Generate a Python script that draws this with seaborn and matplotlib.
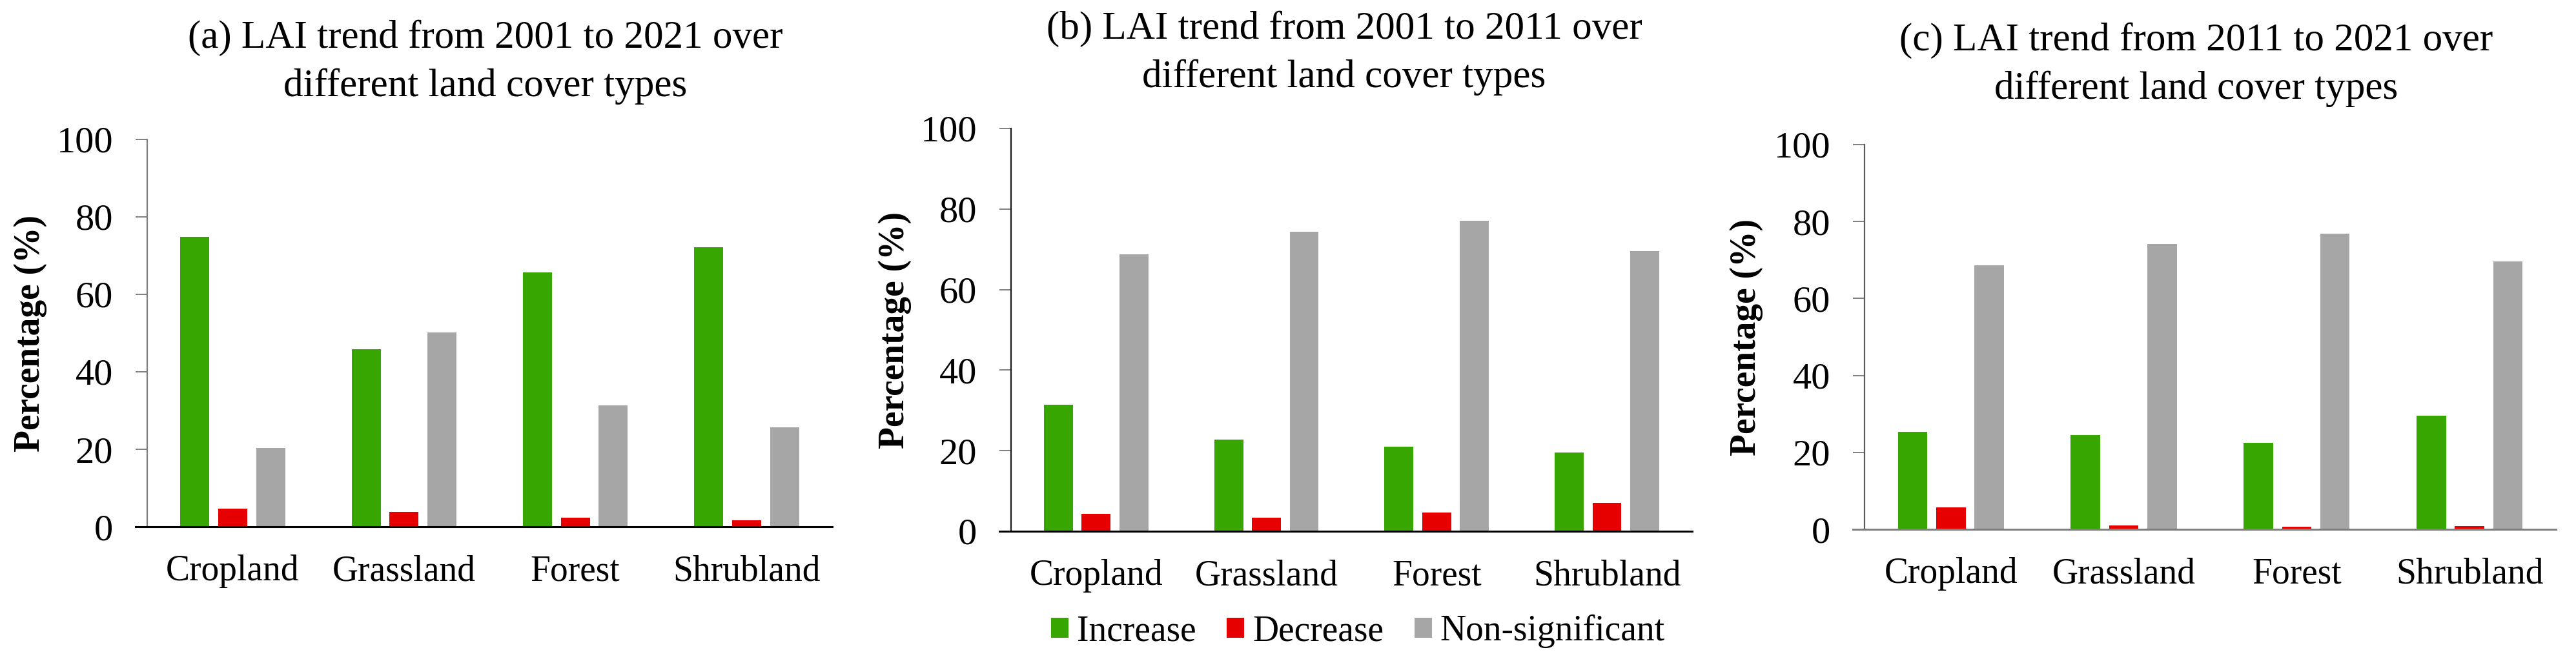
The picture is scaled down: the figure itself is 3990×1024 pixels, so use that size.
import numpy as np
import pandas as pd
import matplotlib
matplotlib.use("Agg")
import matplotlib.pyplot as plt
from matplotlib import font_manager as fm
import seaborn as sns

# ---------------- data ----------------
land_types = ["Cropland", "Grassland", "Forest", "Shrubland"]
trend_types = ["Increase", "Decrease", "Non-significant"]

titles = [
    "(a) LAI trend from 2001 to 2021 over\ndifferent land cover types",
    "(b) LAI trend from 2001 to 2011 over\ndifferent land cover types",
    "(c) LAI trend from 2011 to 2021 over\ndifferent land cover types",
]

a_increase = [74.8, 45.9, 65.7, 72.2]
a_decrease = [4.7, 3.8, 2.3, 1.6]
a_nonsig = [20.3, 50.1, 31.4, 25.6]

b_increase = [31.4, 22.8, 21.0, 19.6]
b_decrease = [4.4, 3.4, 4.6, 7.0]
b_nonsig = [68.7, 74.4, 77.0, 69.5]

c_increase = [25.4, 24.5, 22.5, 29.5]
c_decrease = [5.7, 1.0, 0.7, 0.8]
c_nonsig = [68.7, 74.2, 76.9, 69.6]

y_ticks = [0, 20, 40, 60, 80, 100]

panels = [
    (a_increase, a_decrease, a_nonsig),
    (b_increase, b_decrease, b_nonsig),
    (c_increase, c_decrease, c_nonsig),
]

colors = ["#37A600", "#E60000", "#A6A6A6"]

# ---------------- style ----------------
sns.set_theme(style="white")
SERIF = ["Liberation Serif", "DejaVu Serif"]
plt.rcParams["font.family"] = "serif"
plt.rcParams["font.serif"] = SERIF
plt.rcParams["text.color"] = "black"
plt.rcParams["axes.labelcolor"] = "black"
plt.rcParams["xtick.color"] = "black"
plt.rcParams["ytick.color"] = "black"

reg_path = fm.findfont(fm.FontProperties(family="Liberation Serif", weight="normal"))
bold_path = fm.findfont(fm.FontProperties(family="Liberation Serif", weight="bold"))


def fp(size, bold=False):
    return fm.FontProperties(fname=bold_path if bold else reg_path, size=size)


fig = plt.figure(figsize=(39.91, 10.24), dpi=100)

axes_pos = [
    [0.0571, 0.2031, 0.3230 - 0.0571, 0.7891 - 0.2031],
    [0.3924, 0.1963, 0.6567 - 0.3924, 0.8057 - 0.1963],
    [0.7236, 0.1992, 0.9920 - 0.7236, 0.7813 - 0.1992],
]
title_xy = [(0.1884, 0.8420), (0.5217, 0.8556), (0.8524, 0.8381)]
left_spine_col = ["#7f7f7f", "#1a1a1a", "#595959"]
bottom_spine_col = ["#000000", "#000000", "#7f7f7f"]

handles = labels = None
for i, (inc, dec, non) in enumerate(panels):
    ax = fig.add_axes(axes_pos[i])
    df = pd.DataFrame({
        "land": land_types * 3,
        "trend": [trend_types[0]] * 4 + [trend_types[1]] * 4 + [trend_types[2]] * 4,
        "pct": list(inc) + list(dec) + list(non),
    })
    sns.barplot(data=df, x="land", y="pct", hue="trend", order=land_types,
                hue_order=trend_types, palette=colors, width=0.6645, gap=0.232,
                errorbar=None, saturation=1, ax=ax, legend=(i == 1),
                linewidth=0)
    if i == 1:
        handles, labels = ax.get_legend_handles_labels()
        ax.get_legend().remove()

    ax.set_xlim(-0.5, 3.5)
    ax.set_ylim(0, 100)
    ax.set_yticks(y_ticks)
    ax.set_yticklabels([str(t) for t in y_ticks])
    ax.set_xticks(range(len(land_types)))
    ax.set_xticklabels(land_types)
    ax.set_xlabel("")
    ax.set_ylabel("Percentage (%)", fontproperties=fp(40, bold=True), color="black")
    ax.yaxis.set_label_coords(-0.146, 0.5)

    for s in ["top", "right"]:
        ax.spines[s].set_visible(False)
    ax.spines["left"].set_color(left_spine_col[i])
    ax.spines["left"].set_linewidth(1.6)
    ax.spines["bottom"].set_color(bottom_spine_col[i])
    ax.spines["bottom"].set_linewidth(2.2)
    ax.spines["bottom"].set_bounds(-0.5 - 18.0 / 265.0, 3.5)

    ax.tick_params(axis="y", which="both", left=True, direction="out",
                   length=13, width=1.4, color="#7f7f7f", pad=25,
                   labelcolor="black")
    ax.tick_params(axis="x", which="both", bottom=False, length=0, pad=31,
                   labelcolor="black")
    ax.grid(False)

    for lbl in ax.get_yticklabels():
        lbl.set_fontproperties(fp(42))
    for lbl in ax.get_xticklabels():
        lbl.set_fontproperties(fp(40))

    fig.text(title_xy[i][0], title_xy[i][1], titles[i], ha="center", va="bottom",
             fontproperties=fp(44), linespacing=1.43, multialignment="center",
             color="black")

leg = fig.legend(handles, labels, loc="center", bbox_to_anchor=(0.527, 0.045),
                 ncol=3, frameon=False, prop=fp(40),
                 handlelength=0.49, handleheight=0.49, handletextpad=0.23,
                 columnspacing=0.86, borderaxespad=0, borderpad=0)
for t in leg.get_texts():
    t.set_color("black")

fig.savefig("out.png", dpi=100, facecolor="white")
